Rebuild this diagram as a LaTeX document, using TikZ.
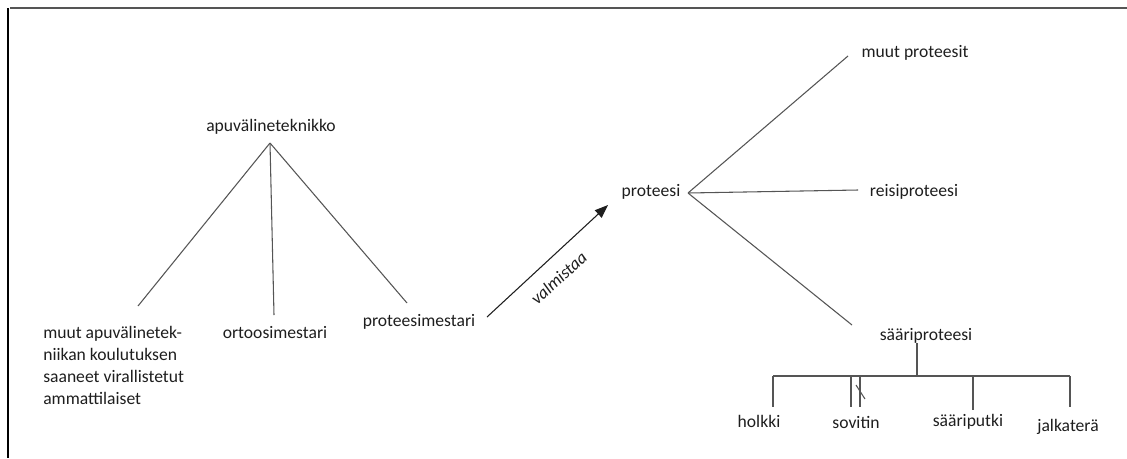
\documentclass[tikz,border=0pt]{standalone}
\usepackage{fontspec}
\setmainfont{Carlito}
\usetikzlibrary{arrows.meta}
\definecolor{txt}{HTML}{1E1E1E}
\definecolor{ln}{HTML}{555555}
\begin{document}
\begin{tikzpicture}[x=0.75pt,y=-0.75pt,
  lbl/.style={inner sep=0pt,text=txt,font=\fontsize{13.2}{16.5}\selectfont},
  conn/.style={draw=ln,line width=0.8pt},
  frame/.style={line width=0.8pt}]
\useasboundingbox (0,0) rectangle (1127,458);
% frame
\coordinate (tl) at (8,8);
\coordinate (tr) at (1127,8);
\coordinate (bl) at (8,458);
\draw[draw=ln,line width=1.6pt] (10,8) -- (tr);
\draw[frame] (tl) -- (bl);
% left tree
\node[lbl] (apu) at (271,127) {apuvälineteknikko};
\coordinate (apuA) at (270,143);
\node[lbl,anchor=north west,align=left] (muut) at (43,326) {muut apuvälinetek-\\niikan koulutuksen\\saaneet virallistetut\\ammattilaiset};
\node[lbl] (orto) at (275,333) {ortoosimestari};
\node[lbl] (prm) at (419,322) {proteesimestari};
\coordinate (mE) at (138,306);
\coordinate (oE) at (274,315);
\coordinate (pE) at (407,303);
\draw[conn] (apuA) -- (mE);
\draw[conn] (apuA) -- (oE);
\draw[conn] (apuA) -- (pE);
% arrow
\coordinate (aS) at (487,317);
\coordinate (aT) at (608,205);
\draw[draw=txt,line width=0.8pt,-{Triangle[length=10pt,width=7.5pt]}] (aS) -- node[lbl,sloped,pos=0.48,below=10pt,font=\fontsize{13.2}{16.5}\selectfont\itshape]{valmistaa} (aT);
% right tree
\node[lbl] (pro) at (651,192) {proteesi};
\coordinate (proA) at (688,193);
\node[lbl] (mp) at (915,53) {muut proteesit};
\node[lbl] (rp) at (914,192) {reisiproteesi};
\node[lbl] (sp) at (926,336) {sääriproteesi};
\coordinate (mpE) at (848,56);
\coordinate (rpE) at (858,190);
\coordinate (spE) at (852,325);
\draw[conn] (proA) -- (mpE);
\draw[conn] (proA) -- (rpE);
\draw[conn] (proA) -- (spE);
% sääriproteesi parts
\coordinate (spS) at (917,343);
\coordinate (barM) at (917,376);
\coordinate (barL) at (773,376);
\coordinate (barR) at (1070,376);
\draw[conn] (spS) -- (barM);
\draw[conn] (barL) -- (barR);
\node[lbl] (hol) at (759,421) {holkki};
\node[lbl] (sov) at (856,422) {sovitin};
\node[lbl] (sput) at (968,422) {sääriputki};
\node[lbl] (jalk) at (1068,427) {jalkaterä};
\coordinate (hB) at (773,407);
\coordinate (s1T) at (851,376);
\coordinate (s1B) at (851,407);
\coordinate (s2T) at (860,376);
\coordinate (s2B) at (860,407);
\coordinate (sxA) at (856,385);
\coordinate (sxB) at (865,399);
\coordinate (spT) at (973,376);
\coordinate (spB) at (973,410);
\coordinate (jB) at (1070,407);
\draw[conn] (barL) -- (hB);
\draw[conn] (s1T) -- (s1B);
\draw[conn] (s2T) -- (s2B);
\draw[conn] (sxA) -- (sxB);
\draw[conn] (spT) -- (spB);
\draw[conn] (barR) -- (jB);
\end{tikzpicture}
\end{document}
